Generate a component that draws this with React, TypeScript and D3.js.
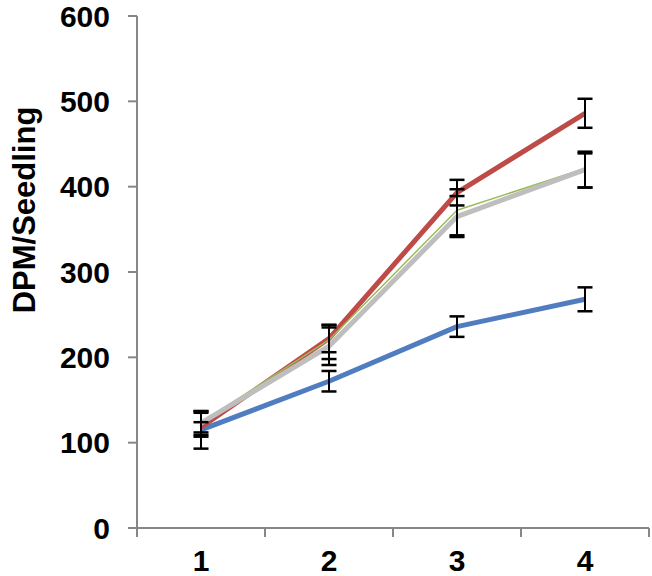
import React, { useEffect, useRef } from 'react';
import * as d3 from 'd3';

// chart values
const categories = ['1', '2', '3', '4'];
const yTicks = [0, 100, 200, 300, 400, 500, 600];

const blueValues = [115, 172, 236, 268];
const blueErrors = [22, 12, 12, 14];
const redValues = [118, 222, 393, 486];
const redErrors = [6, 16, 15, 17];
const greenValues = [121, 218, 370, 419];
const greenErrors = [14, 20, 27, 20];
const grayValues = [123, 213, 365, 420];
const grayErrors = [14, 22, 24, 21];

const W = 652;
const H = 576;

const App = () => {
  const svgRef = useRef(null);

  useEffect(() => {
    const svg = d3.select(svgRef.current);
    svg.selectAll('*').remove();

    const font = 'Liberation Sans, Arial, sans-serif';
    const axisColor = '#878787';

    const x = d3.scaleBand().domain(categories).range([137, 649]);
    const y = d3.scaleLinear().domain([0, 600]).range([528, 16]);

    // y axis line + ticks
    svg.append('line')
      .attr('x1', 137).attr('x2', 137)
      .attr('y1', y(600)).attr('y2', y(0) + 9)
      .attr('stroke', axisColor).attr('stroke-width', 2);

    yTicks.forEach(t => {
      svg.append('line')
        .attr('x1', 128).attr('x2', 137)
        .attr('y1', y(t)).attr('y2', y(t))
        .attr('stroke', axisColor).attr('stroke-width', 2);
      svg.append('text')
        .attr('x', 110).attr('y', y(t))
        .attr('dy', '0.36em')
        .attr('text-anchor', 'end')
        .style('font-family', font)
        .style('font-weight', 'bold')
        .style('font-size', '30px')
        .text(t);
    });

    // x axis line + ticks at band edges
    svg.append('line')
      .attr('x1', 128).attr('x2', 649)
      .attr('y1', y(0)).attr('y2', y(0))
      .attr('stroke', axisColor).attr('stroke-width', 2);

    categories.forEach(c => {
      const edge = x(c) + x.bandwidth();
      svg.append('line')
        .attr('x1', edge).attr('x2', edge)
        .attr('y1', y(0)).attr('y2', y(0) + 9)
        .attr('stroke', axisColor).attr('stroke-width', 2);
      svg.append('text')
        .attr('x', x(c) + x.bandwidth() / 2)
        .attr('y', 571)
        .attr('text-anchor', 'middle')
        .style('font-family', font)
        .style('font-weight', 'bold')
        .style('font-size', '30px')
        .text(c);
    });

    // y axis title
    svg.append('text')
      .attr('transform', `translate(35, 210) rotate(-90)`)
      .attr('text-anchor', 'middle')
      .style('font-family', font)
      .style('font-weight', 'bold')
      .style('font-size', '31px')
      .text('DPM/Seedling');

    const cx = c => x(c) + x.bandwidth() / 2;

    const series = [
      { values: blueValues, errors: blueErrors, color: '#4F7DC0', width: 5 },
      { values: redValues, errors: redErrors, color: '#BE4B48', width: 5 },
      { values: greenValues, errors: greenErrors, color: '#9BBB59', width: 1.5 },
      { values: grayValues, errors: grayErrors, color: '#BEBEBE', width: 5 },
    ];

    const line = d3.line()
      .x((d, i) => cx(categories[i]))
      .y(d => y(d));

    series.forEach((s, si) => {
      // green sits just above gray in the picture
      const off = si === 2 ? -2 : 0;
      svg.append('path')
        .datum(s.values)
        .attr('d', line)
        .attr('transform', `translate(0, ${off})`)
        .attr('fill', 'none')
        .attr('stroke', s.color)
        .attr('stroke-width', s.width)
        .attr('stroke-linejoin', 'round');
    });

    // error bars on top
    series.forEach(s => {
      s.values.forEach((v, i) => {
        const px = cx(categories[i]);
        const hi = y(v + s.errors[i]);
        const lo = y(v - s.errors[i]);
        svg.append('line')
          .attr('x1', px).attr('x2', px)
          .attr('y1', hi).attr('y2', lo)
          .attr('stroke', '#000').attr('stroke-width', 2);
        [hi, lo].forEach(yy => {
          svg.append('line')
            .attr('x1', px - 7.5).attr('x2', px + 7.5)
            .attr('y1', yy).attr('y2', yy)
            .attr('stroke', '#000').attr('stroke-width', 2.5);
        });
      });
    });
  }, []);

  return (
    <svg
      ref={svgRef}
      width={W}
      height={H}
      style={{ position: 'absolute', left: 0, top: 0, background: '#fff' }}
    />
  );
};

export default App;
